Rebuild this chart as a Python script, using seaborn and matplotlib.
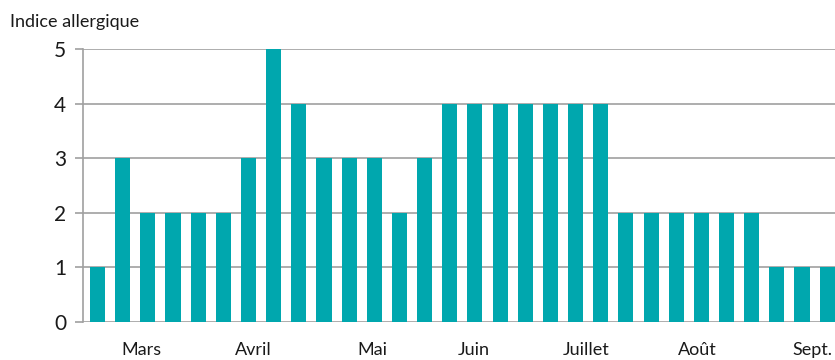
import matplotlib
matplotlib.use("Agg")
import matplotlib.pyplot as plt
import seaborn as sns
import pandas as pd

# Weekly allergy index, March to September
semaines = list(range(30))
indice = [1, 3, 2, 2, 2, 2, 3, 5, 4, 3, 3, 3, 2, 3, 4, 4, 4, 4, 4, 4, 4,
          2, 2, 2, 2, 2, 2, 1, 1, 1]
mois = ["Mars", "Avril", "Mai", "Juin", "Juillet", "Août", "Sept."]
mois_pos = [1.73, 6.18, 10.91, 14.96, 19.41, 23.83, 28.4]

sns.set_theme(style="white")
plt.rcParams["font.family"] = ["Lato", "DejaVu Sans"]

df = pd.DataFrame({"semaine": semaines, "indice": indice})

fig = plt.figure(figsize=(8.35, 3.6), dpi=100)
ax = fig.add_axes([83 / 835, 1 - 322 / 360, 1 - 83 / 835, (322 - 49) / 360])

sns.barplot(data=df, x="semaine", y="indice", color="#00A7AE",
            saturation=1, width=0.6, ax=ax, linewidth=0)

ax.set_ylim(0, 5)
ax.set_xlim(-0.576, 29.31)
ax.set_yticks(range(6))
ax.yaxis.grid(True, color="#a0a0a0", linewidth=1.2)
ax.set_axisbelow(True)
ax.set_xticks(mois_pos)
ax.set_xticklabels(mois)
ax.tick_params(axis="x", length=0, pad=14.5, labelsize=13, colors="#1a1a1a")
ax.tick_params(axis="y", length=6, width=1.2, color="#a0a0a0", pad=6,
               labelsize=15, labelcolor="#1a1a1a", left=True)
ax.set_xlabel("")
ax.set_ylabel("")

for s in ["top", "right", "bottom"]:
    ax.spines[s].set_visible(False)
ax.spines["left"].set_color("#a0a0a0")
ax.spines["left"].set_linewidth(1.2)

fig.text(10 / 835, 1 - 22 / 360, "Indice allergique", fontsize=13,
         va="center", ha="left", color="#1a1a1a")

fig.savefig("out.png", dpi=100)
